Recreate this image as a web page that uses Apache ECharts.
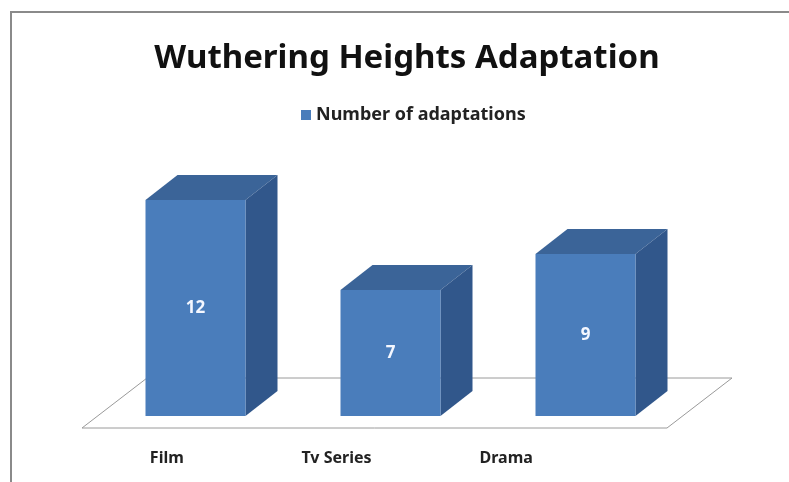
<!DOCTYPE html>
<html>
<head>
<meta charset="utf-8">
<script src="https://cdn.jsdelivr.net/npm/echarts@6/dist/echarts.min.js"></script>
<style>html,body{margin:0;padding:0;background:#fff;}#c{width:789px;height:482px;}</style>
</head>
<body>
<div id="c"></div>
<script>
const categories = ['Film', 'Tv Series', 'Drama'];
const values = [12, 7, 9];
const seriesName = 'Number of adaptations';
const titleText = 'Wuthering Heights Adaptation';

const FRONT = '#4a7dbb', TOP = '#3b6498', SIDE = '#31578b';
const HALF = 50, DX = 32, DY = 25;

const chart = echarts.init(document.getElementById('c'));
const font = "'Noto Sans', 'Open Sans', sans-serif";

chart.setOption({
  animation: false,
  backgroundColor: '#fff',
  title: {
    text: titleText, left: 402, top: 37, textAlign: 'center',
    textStyle: { fontFamily: font, fontWeight: 'bold', fontSize: 33, color: '#111' }
  },
  legend: {
    data: [seriesName], left: 296, top: 101, icon: 'rect', itemWidth: 10, itemHeight: 10, itemGap: 5,
    textStyle: { fontFamily: font, fontWeight: 'bold', fontSize: 18, color: '#222' }
  },
  graphic: [{
    type: 'rect', shape: { x: 11, y: 12, width: 820, height: 520 },
    style: { fill: 'none', stroke: '#8a8a8a', lineWidth: 2 }, z: 100
  }],
  grid: [
    { left: 98, width: 585, top: 164, height: 252 },
    { left: 82, width: 509, top: 164, height: 252 }
  ],
  xAxis: [
    { type: 'category', gridIndex: 0, data: categories, show: false },
    { type: 'category', gridIndex: 1, data: categories, axisLine: { show: false }, axisTick: { show: false },
      axisLabel: { margin: 34, fontFamily: font, fontWeight: 'bold', fontSize: 16, color: '#222' } }
  ],
  yAxis: [
    { type: 'value', gridIndex: 0, min: 0, max: 14, show: false },
    { type: 'value', gridIndex: 1, min: 0, max: 14, show: false }
  ],
  series: [
    {
      type: 'custom', name: 'floor', xAxisIndex: 0, yAxisIndex: 0, z: 1, silent: true,
      data: [[0, 0]],
      renderItem: function (params, api) {
        const band = api.size([1, 0])[0];
        const p0 = api.coord([0, 0]);
        const p2 = api.coord([categories.length - 1, 0]);
        const xl = p0[0] - band / 2 - 16, xr = p2[0] + band / 2 - 16, yf = p0[1] + 12;
        return {
          type: 'polygon',
          shape: { points: [[xl, yf], [xr, yf], [xr + 65, yf - 50], [xl + 65, yf - 50]] },
          style: { fill: '#fff', stroke: '#9a9a9a', lineWidth: 1 }
        };
      }
    },
    {
      type: 'bar', name: seriesName, xAxisIndex: 0, yAxisIndex: 0, data: values, barWidth: 100, z: 3,
      itemStyle: { color: FRONT },
      label: { show: true, position: 'inside', color: '#f4f7ff', fontFamily: font, fontWeight: 'bold', fontSize: 17 }
    },
    {
      type: 'custom', name: 'faces', xAxisIndex: 0, yAxisIndex: 0, z: 3, silent: true,
      data: values.map((v, i) => [i, v]),
      renderItem: function (params, api) {
        const t = api.coord([api.value(0), api.value(1)]);
        const b = api.coord([api.value(0), 0]);
        const x = t[0], ty = t[1], by = b[1];
        return {
          type: 'group', children: [
            { type: 'polygon', shape: { points: [[x - HALF, ty], [x + HALF, ty], [x + HALF + DX, ty - DY], [x - HALF + DX, ty - DY]] },
              style: { fill: TOP } },
            { type: 'polygon', shape: { points: [[x + HALF, ty], [x + HALF + DX, ty - DY], [x + HALF + DX, by - DY], [x + HALF, by]] },
              style: { fill: SIDE } }
          ]
        };
      }
    }
  ]
});
</script>
</body>
</html>
